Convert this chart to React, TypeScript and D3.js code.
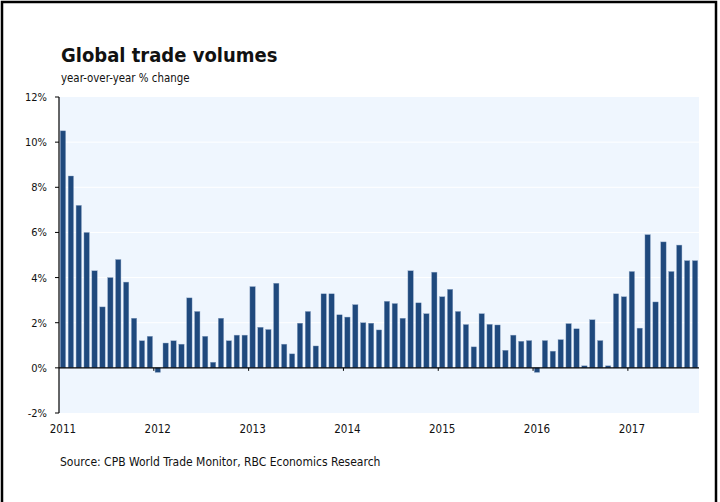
import React from "react";
import * as d3 from "d3";

const months: string[] = [];
const startYear = 2011;
const values: number[] = [
  10.5, 8.5, 7.2, 6.0, 4.3, 2.7, 4.0, 4.8, 3.8, 2.2, 1.2, 1.4,
  -0.2, 1.1, 1.2, 1.05, 3.1, 2.5, 1.4, 0.25, 2.2, 1.2, 1.45, 1.45,
  3.6, 1.8, 1.7, 3.75, 1.05, 0.62, 1.98, 2.5, 0.97, 3.28, 3.28, 2.35,
  2.25, 2.8, 2.0, 1.98, 1.68, 2.95, 2.85, 2.2, 4.3, 2.88, 2.4, 4.24,
  3.15, 3.48, 2.5, 1.92, 0.93, 2.4, 1.93, 1.9, 0.78, 1.45, 1.18, 1.21,
  -0.2, 1.21, 0.74, 1.25, 1.96, 1.73, 0.09, 2.13, 1.21, 0.09, 3.28, 3.15,
  4.27, 1.76, 5.9, 2.92, 5.58, 4.27, 5.44, 4.75, 4.75,
];
values.forEach((_, i) => months.push(`${startYear + Math.floor(i / 12)}-${(i % 12) + 1}`));
const yearLabels = ["2011", "2012", "2013", "2014", "2015", "2016", "2017"];
const yTicks = [-2, 0, 2, 4, 6, 8, 10, 12];

const W = 720;
const H = 502;
const plot = { left: 59, right: 699, top: 97, bottom: 413 };
const FONT = "'DejaVu Sans Condensed', 'DejaVu Sans', sans-serif";

export default function App() {
  const x = d3
    .scaleBand<string>()
    .domain(months)
    .range([plot.left, plot.right])
    .paddingInner(0.32)
    .paddingOuter(0.16);
  const y = d3.scaleLinear().domain([-2, 12]).range([plot.bottom, plot.top]);
  const step = (plot.right - plot.left) / months.length;

  return (
    <svg
      width={W}
      height={H}
      style={{ position: "absolute", left: 0, top: 0, background: "#fff" }}
    >
      <rect x={2} y={2} width={714} height={520} fill="none" stroke="#000" strokeWidth={2.5} />
      <text x={61} y={62} fontFamily={FONT} fontWeight="bold" fontSize={20} fill="#111">
        Global trade volumes
      </text>
      <text x={61} y={82} fontFamily={FONT} fontSize={11.4} fill="#111">
        year-over-year % change
      </text>
      <rect
        x={plot.left}
        y={plot.top}
        width={plot.right - plot.left}
        height={plot.bottom - plot.top}
        fill="#eff6fe"
      />
      {yTicks
        .filter((t) => t > 0 && t < 12)
        .map((t) => (
          <line key={t} x1={plot.left} x2={plot.right} y1={y(t)} y2={y(t)} stroke="#fff" strokeWidth={1} />
        ))}
      {values.map((v, i) => (
        <rect
          key={i}
          x={x(months[i])}
          width={x.bandwidth()}
          y={Math.min(y(v), y(0))}
          height={Math.abs(y(v) - y(0))}
          fill="#1f497d"
          stroke="#8ea6c6"
          strokeWidth={0.4}
        />
      ))}
      <line x1={plot.left} x2={plot.right} y1={y(0)} y2={y(0)} stroke="#000" strokeWidth={1.2} />
      <line x1={plot.left} x2={plot.left} y1={plot.top} y2={plot.bottom} stroke="#000" strokeWidth={1.2} />
      {yTicks.map((t) => (
        <g key={t}>
          <line x1={plot.left - 4} x2={plot.left} y1={y(t)} y2={y(t)} stroke="#000" strokeWidth={1} />
          <text
            x={47}
            y={y(t) + 4}
            textAnchor="end"
            fontFamily={FONT}
            fontSize={11}
            fill="#111"
          >
            {`${t}%`}
          </text>
        </g>
      ))}
      {yearLabels.map((lab, k) => {
        const x0 = plot.left + k * 12 * step;
        return (
          <g key={lab}>
            {k > 0 && (
              <line x1={x0} x2={x0} y1={y(0)} y2={y(0) + 3} stroke="#000" strokeWidth={1} />
            )}
            <text
              x={x0 + step / 2}
              y={433}
              textAnchor="middle"
              fontFamily={FONT}
              fontSize={11.5}
              fill="#111"
            >
              {lab}
            </text>
          </g>
        );
      })}
      <text x={60} y={466} fontFamily={FONT} fontSize={12} fill="#111">
        Source: CPB World Trade Monitor, RBC Economics Research
      </text>
    </svg>
  );
}
